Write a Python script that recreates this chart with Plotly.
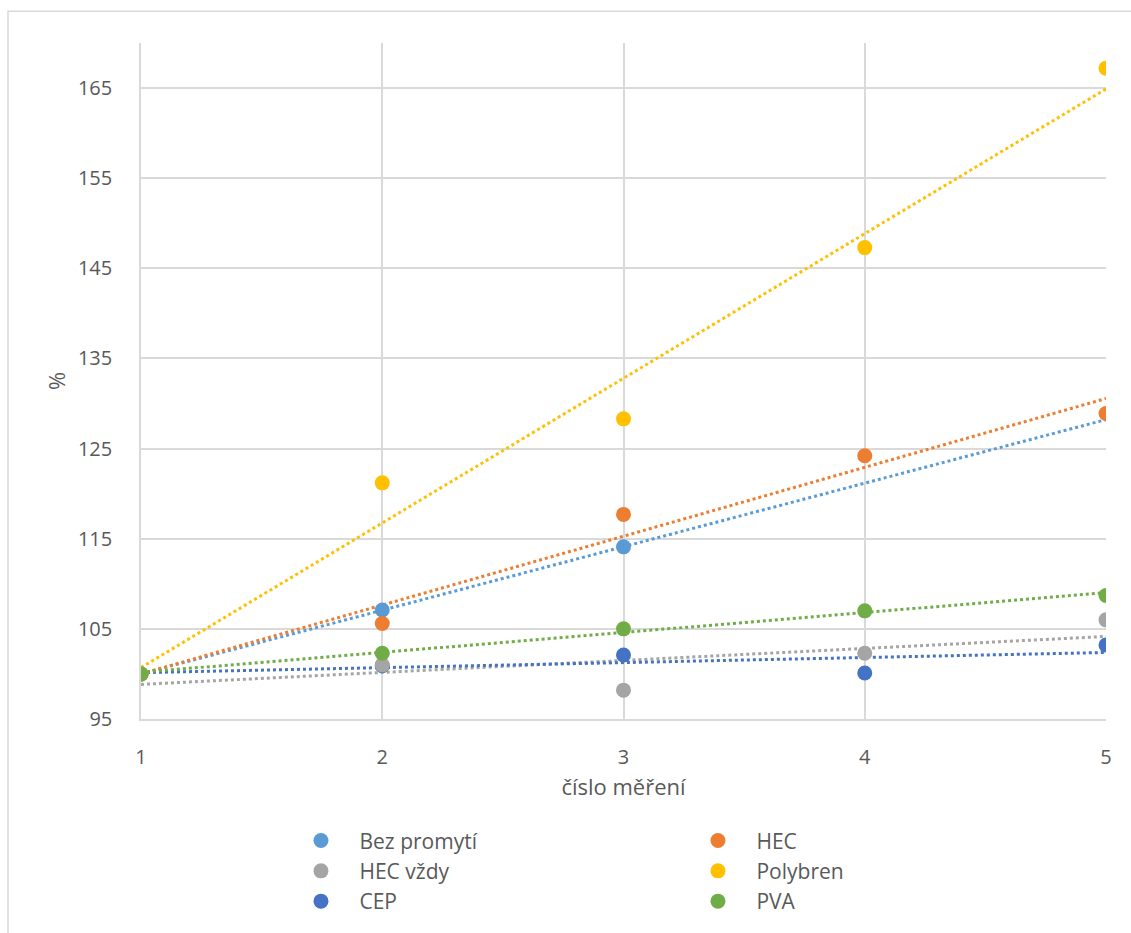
import numpy as np
import plotly.graph_objects as go

# ---- data ----
x_all = [1, 2, 3, 4, 5]
series_names = ["Bez promytí", "HEC", "HEC vždy", "Polybren", "CEP", "PVA"]
bez_promyti_x = [1, 2, 3]
bez_promyti = [100, 107.1, 114.1]
hec = [100, 105.6, 117.7, 124.2, 128.9]
hec_vzdy = [100, 101.0, 98.2, 102.3, 106.0]
polybren = [100, 121.2, 128.3, 147.3, 167.2]
cep = [100, 100.9, 102.1, 100.1, 103.2]
pva = [100, 102.3, 105.0, 107.0, 108.7]
colors = {
    "Bez promytí": "#5B9BD5",
    "HEC": "#ED7D31",
    "HEC vždy": "#A5A5A5",
    "Polybren": "#FFC000",
    "CEP": "#4472C4",
    "PVA": "#70AD47",
}
x_ticks = [1, 2, 3, 4, 5]
y_ticks = [95, 105, 115, 125, 135, 145, 155, 165]

data = {
    "Bez promytí": (bez_promyti_x, bez_promyti),
    "HEC": (x_all, hec),
    "HEC vždy": (x_all, hec_vzdy),
    "Polybren": (x_all, polybren),
    "CEP": (x_all, cep),
    "PVA": (x_all, pva),
}

FONT = "Open Sans"
fig = go.Figure()

# trendlines (linear fit, drawn across 1..5)
trend_x = np.array([min(x_ticks), max(x_ticks)], dtype=float)
for name in series_names:
    xs, ys = data[name]
    k, q = np.polyfit(xs, ys, 1)
    fig.add_trace(go.Scatter(
        x=trend_x, y=k * trend_x + q, mode="lines",
        line=dict(color=colors[name], width=3, dash="dot"),
        showlegend=False, hoverinfo="skip"))

# markers (draw CEP below HEC vždy)
draw_order = ["Bez promytí", "HEC", "CEP", "HEC vždy", "Polybren", "PVA"]
for name in draw_order:
    xs, ys = data[name]
    fig.add_trace(go.Scatter(
        x=xs, y=ys, mode="markers", name=name,
        marker=dict(color=colors[name], size=15, line=dict(width=0)),
        legendrank=series_names.index(name) + 1))

grid = "#D9D9D9"
fig.update_layout(
    width=1131, height=933,
    margin=dict(l=141, r=25, t=43, b=211),
    paper_bgcolor="white", plot_bgcolor="white",
    font=dict(family=FONT, color="#595959", size=20),
    xaxis=dict(range=[1, 5], tickvals=x_ticks, showgrid=True, gridcolor=grid,
               gridwidth=1.5, zeroline=False, showline=True, linecolor=grid,
               linewidth=1.5, ticks="", ticklabelstandoff=19,
               tickfont=dict(size=20, color="#595959"),
               title=dict(text="číslo měření", font=dict(size=22, color="#595959"),
                          standoff=11)),
    yaxis=dict(range=[95, 170], tickvals=y_ticks, showgrid=True, gridcolor=grid,
               gridwidth=1.5, zeroline=False, showline=True, linecolor=grid,
               linewidth=1.5, ticks="", ticklabelstandoff=23,
               tickfont=dict(size=20, color="#595959"),
               title=dict(text="%", font=dict(size=22, color="#595959"),
                          standoff=6)),
    legend=dict(orientation="h", x=0.1466, xanchor="left", y=-0.15,
                yanchor="top", entrywidth=315, itemwidth=67,
                font=dict(size=21, color="#595959"), traceorder="normal"),
    shapes=[dict(type="rect", xref="paper", yref="paper",
                 x0=(8 - 141) / 965, x1=(1140 - 141) / 965,
                 y0=(722 - 945) / 679, y1=(722 - 11) / 679,
                 line=dict(color=grid, width=1.5), layer="below")],
    showlegend=True,
)

fig.write_html("out.html")
